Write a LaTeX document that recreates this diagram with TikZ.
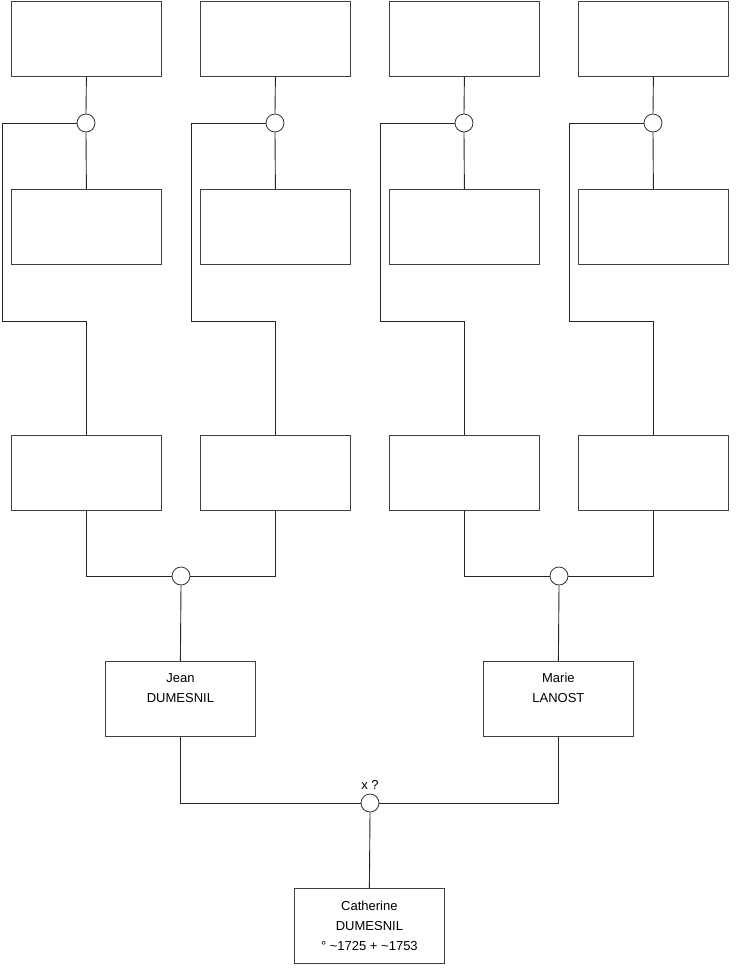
\documentclass[tikz,border=0pt]{standalone}
\usepackage{fontspec}
\setmainfont{Liberation Sans}
\begin{document}
\begin{tikzpicture}[x=1pt,y=-1pt,
  pbox/.style={draw=black!75,line width=0.8pt,fill=white,rectangle,minimum width=150pt,minimum height=75pt,inner sep=0pt,anchor=north west},
  knot/.style={draw=black!80,line width=0.8pt,fill=white,circle,minimum size=18pt,inner sep=0pt},
  link/.style={draw=black!85,line width=0.9pt},
  txt/.style={font=\fontsize{13}{15}\selectfont,anchor=base,inner sep=0pt}]
\useasboundingbox (0,0) rectangle (740,975);
\foreach \i/\x in {1/11,2/200,3/389,4/578}{
  \node[pbox] (a\i) at (\x,1) {};
  \node[pbox] (b\i) at (\x,189) {};
  \node[pbox] (c\i) at (\x,435) {};
}
\node[knot] (k1) at (86,123) {};
\node[knot] (k2) at (275,123) {};
\node[knot] (k3) at (464,123) {};
\node[knot] (k4) at (653,123) {};
\foreach \i/\lx in {1/2,2/191,3/380,4/569}{
  \draw[link] (a\i.south) -- (k\i.north);
  \draw[link] (k\i.south) -- (b\i.north);
  \coordinate (p\i) at (\lx,321);
  \draw[link] (k\i.west) -| (p\i) -| (c\i.north);
}
\node[knot] (m1) at (181,576) {};
\node[knot] (m2) at (559,576) {};
\node[pbox] (jean) at (105,661) {};
\node[pbox] (marie) at (483,661) {};
\draw[link] (c1.south) |- (m1.west);
\draw[link] (c2.south) |- (m1.east);
\draw[link] (c3.south) |- (m2.west);
\draw[link] (c4.south) |- (m2.east);
\draw[link] (m1.south) -- (jean.north);
\draw[link] (m2.south) -- (marie.north);
\node[txt] (jean1) at ([yshift=-21pt]jean.north) {Jean};
\node[txt] (jean2) at ([yshift=-41pt]jean.north) {DUMESNIL};
\node[txt] (marie1) at ([yshift=-21pt]marie.north) {Marie};
\node[txt] (marie2) at ([yshift=-41pt]marie.north) {LANOST};
\node[knot] (m0) at (370,803) {};
\node[txt] (xq) at (370,789.5) {x ?};
\node[pbox] (cath) at (294,888) {};
\draw[link] (jean.south) |- (m0.west);
\draw[link] (marie.south) |- (m0.east);
\draw[link] (m0.south) -- (cath.north);
\node[txt] (cath1) at ([yshift=-22pt]cath.north) {Catherine};
\node[txt] (cath2) at ([yshift=-42pt]cath.north) {DUMESNIL};
\node[txt] (cath3) at ([yshift=-62pt]cath.north) {° \textasciitilde1725 + \textasciitilde1753};
\end{tikzpicture}
\end{document}
